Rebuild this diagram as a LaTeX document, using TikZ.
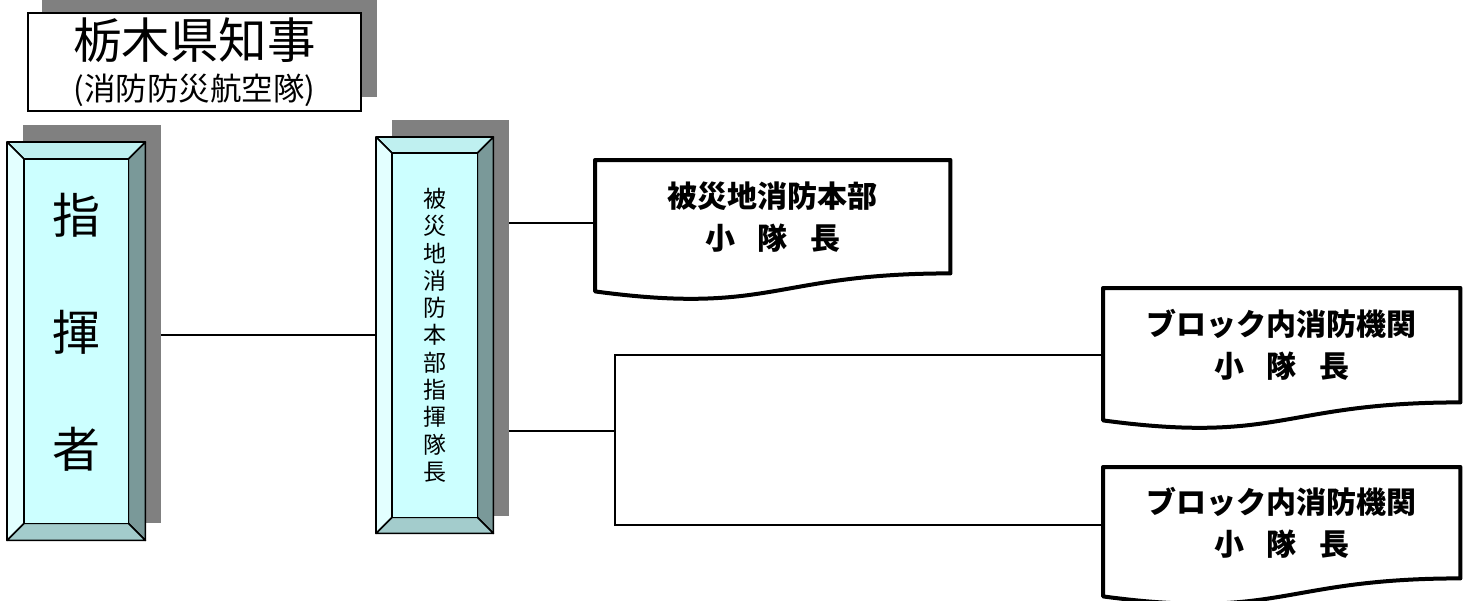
\documentclass[tikz,border=0pt]{standalone}
\usepackage{fontspec}
\newfontfamily\jp{Noto Sans CJK JP}
\usetikzlibrary{calc,backgrounds}

\definecolor{shadowgray}{HTML}{808080}
\definecolor{facecyan}{HTML}{CCFFFF}
\definecolor{topcyan}{HTML}{BFF0F0}
\definecolor{leftcyan}{HTML}{E3FFFF}
\definecolor{rightcyan}{HTML}{7A9999}
\definecolor{bottomcyan}{HTML}{A3CCCC}

\tikzset{
  link/.style={line width=1.5pt},
  shadowfill/.style={fill=shadowgray},
  bevelline/.style={draw=black, line width=1.6pt, line join=round},
  docline/.style={draw=black, fill=white, line width=4pt, line join=round},
  titlebox/.style={draw=black, fill=white, line width=1.5pt, anchor=north west, inner sep=0pt,
    align=center, minimum width=333, minimum height=98, font=\jp\fontsize{31.5}{42}\selectfont},
  leadbox/.style={anchor=north west, inner sep=0pt, align=center, text depth=22pt,
    font=\jp\fontsize{48}{117}\selectfont},
  cmdbox/.style={anchor=north west, inner sep=0pt, align=center, font=\jp\fontsize{23}{27.3}\selectfont},
  doctext/.style={anchor=north west, inner sep=0pt, align=center, font=\jp\bfseries\fontsize{30}{42}\selectfont}
}

% shadow + bevelled frame behind a node
\newcommand{\bevelbox}[2]{%
  \fill[shadowfill] ($(#1.north west)+(16,-17)$) rectangle ($(#1.south east)+(16,-17)$);
  \coordinate (#1-inw) at ($(#1.north west)+(#2,#2)$);
  \coordinate (#1-ine) at ($(#1.north east)+(-#2,#2)$);
  \coordinate (#1-ise) at ($(#1.south east)+(-#2,-#2)$);
  \coordinate (#1-isw) at ($(#1.south west)+(#2,-#2)$);
  \filldraw[bevelline, fill=topcyan] (#1.north west) -- (#1.north east) -- (#1-ine) -- (#1-inw) -- cycle;
  \filldraw[bevelline, fill=leftcyan] (#1.north west) -- (#1-inw) -- (#1-isw) -- (#1.south west) -- cycle;
  \filldraw[bevelline, fill=rightcyan] (#1.north east) -- (#1.south east) -- (#1-ise) -- (#1-ine) -- cycle;
  \filldraw[bevelline, fill=bottomcyan] (#1.south west) -- (#1-isw) -- (#1-ise) -- (#1.south east) -- cycle;
  \filldraw[bevelline, fill=facecyan] (#1-inw) rectangle (#1-ise);
}

% document outline with wavy bottom
\newcommand{\docframe}[1]{%
  \draw[docline] (#1.north west) -- (#1.north east) -- (#1.south east)
    .. controls (#1.south) and ($(#1.south)+(0,42)$) .. ($(#1.south west)+(0,18)$) -- cycle;
}

\begin{document}
\begin{tikzpicture}[x=1pt, y=-1pt]
  \useasboundingbox (0,0) rectangle (1464,600);

  \node[titlebox] (gov) at (27,12) {{\fontsize{48.5}{48}\selectfont 栃木県知事}\\(消防防災航空隊)};
  \node[leadbox, minimum width=138, minimum height=398] (lead) at (7,142) {指\\揮\\者};
  \node[cmdbox, minimum width=117, minimum height=396] (cmd) at (376,137)
    {被\\災\\地\\消\\防\\本\\部\\指\\揮\\隊\\長};
  \node[doctext, minimum width=355, minimum height=113] (local) at (595,160)
    {被災地消防本部\\小\hspace{.75em}隊\hspace{.75em}長};
  \node[doctext, minimum width=357, minimum height=114] (blockA) at (1103,288)
    {ブロック内消防機関\\小\hspace{.75em}隊\hspace{.75em}長};
  \node[doctext, minimum width=357, minimum height=111] (blockB) at (1103,467)
    {ブロック内消防機関\\小\hspace{.75em}隊\hspace{.75em}長};

  \coordinate (localin) at ($(local.north west)+(0,63)$);
  \coordinate (blockAin) at ($(blockA.north west)+(0,67)$);
  \coordinate (blockBin) at ($(blockB.north west)+(0,58)$);
  \coordinate (fork) at (615,431);

  \begin{pgfonlayer}{background}
    % connectors
    \draw[link] (lead.east |- cmd.west) -- (cmd.west);
    \draw[link] (cmd.east |- localin) -- (localin);
    \draw[link] (cmd.east |- fork) -- (fork);
    \draw[link] (blockAin) -| (fork) |- (blockBin);

    % boxes
    \fill[shadowfill] ($(gov.north west)+(15,-15)$) rectangle ($(gov.south east)+(15,-15)$);
    \bevelbox{lead}{17}
    \bevelbox{cmd}{16}
    \docframe{local}
    \docframe{blockA}
    \docframe{blockB}
  \end{pgfonlayer}
\end{tikzpicture}
\end{document}
